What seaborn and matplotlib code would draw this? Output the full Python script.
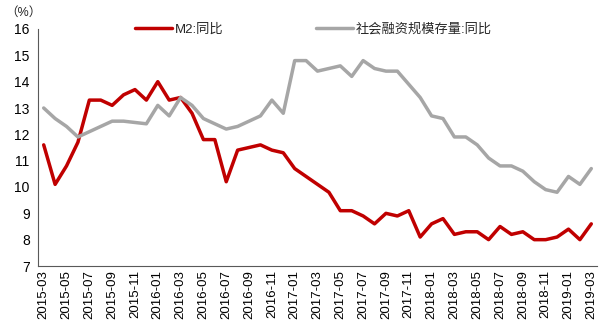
import numpy as np
import pandas as pd
import matplotlib
matplotlib.use("Agg")
import matplotlib.pyplot as plt
import seaborn as sns

# ---- data ----
months = [p.strftime("%Y-%m") for p in pd.period_range("2015-03", "2019-03", freq="M")]
m2 = [11.6, 10.1, 10.8, 11.7, 13.3, 13.3, 13.1, 13.5, 13.7, 13.3,
      14.0, 13.3, 13.4, 12.8, 11.8, 11.8, 10.2, 11.4, 11.5, 11.6,
      11.4, 11.3, 10.7, 10.4, 10.1, 9.8, 9.1, 9.1, 8.9, 8.6,
      9.0, 8.9, 9.1, 8.1, 8.6, 8.8, 8.2, 8.3, 8.3, 8.0,
      8.5, 8.2, 8.3, 8.0, 8.0, 8.1, 8.4, 8.0, 8.6]
tsf = [13.0, 12.6, 12.3, 11.9, 12.1, 12.3, 12.5, 12.5, 12.45, 12.4,
       13.1, 12.7, 13.4, 13.1, 12.6, 12.4, 12.2, 12.3, 12.5, 12.7,
       13.3, 12.8, 14.8, 14.8, 14.4, 14.5, 14.6, 14.2, 14.8, 14.5,
       14.4, 14.4, 13.9, 13.4, 12.7, 12.6, 11.9, 11.9, 11.6, 11.1,
       10.8, 10.8, 10.6, 10.2, 9.9, 9.8, 10.4, 10.1, 10.7]
series_names = ["M2:同比", "社会融资规模存量:同比"]
series_colors = ["#C00000", "#A6A6A6"]
yticks = [7, 8, 9, 10, 11, 12, 13, 14, 15, 16]
unit_label = "（%）"

sns.set_theme(style="white")
plt.rcParams["font.family"] = ["Liberation Sans", "Noto Sans CJK SC", "DejaVu Sans"]

n = len(months)
idx = np.arange(n)
df = pd.DataFrame({
    "idx": np.concatenate([idx, idx]),
    "value": m2 + tsf,
    "series": [series_names[0]] * n + [series_names[1]] * n,
})

fig = plt.figure(figsize=(6.0, 3.3), dpi=100)
ax = fig.add_axes([38 / 600, 1 - 266 / 330, (597 - 38) / 600, (266 - 29) / 330])

sns.lineplot(data=df, x="idx", y="value", hue="series",
             palette=dict(zip(series_names, series_colors)),
             hue_order=series_names, linewidth=2.5, ax=ax, legend=True)

axis_col = "#595959"
ax.set_xlim(-0.5, n - 0.5)
ax.set_ylim(7, 16)
ax.set_yticks(yticks)
ax.set_yticklabels([str(v) for v in yticks], fontsize=10)

major = idx[::2]
ax.set_xticks(major)
ax.set_xticklabels([months[i] for i in major], rotation=90, fontsize=9.5)
ax.set_xticks(list(major - 0.5) + [n - 0.5], minor=True)
ax.tick_params(axis="x", which="major", length=0, pad=3)
ax.tick_params(axis="x", which="minor", length=4, width=0.8, color=axis_col, direction="out")
ax.tick_params(axis="y", which="major", length=4, width=0.8, color=axis_col, direction="out", pad=2)
ax.tick_params(which="major", labelcolor="black")

ax.set_xlabel("")
ax.set_ylabel("")
for s in ["top", "right"]:
    ax.spines[s].set_visible(False)
for s in ["left", "bottom"]:
    ax.spines[s].set_color(axis_col)
    ax.spines[s].set_linewidth(0.8)

handles, labels = ax.get_legend_handles_labels()
ax.legend(handles, labels, ncol=2, loc="center", bbox_to_anchor=(0.522, 1 - 29 / 330),
          bbox_transform=fig.transFigure, frameon=False, fontsize=9.5,
          handlelength=2.8, handletextpad=0.2, columnspacing=7.0)

fig.text(0.008, 1 - 13 / 330, unit_label, fontsize=9, va="center", ha="left")

fig.savefig("out.png", dpi=100)
